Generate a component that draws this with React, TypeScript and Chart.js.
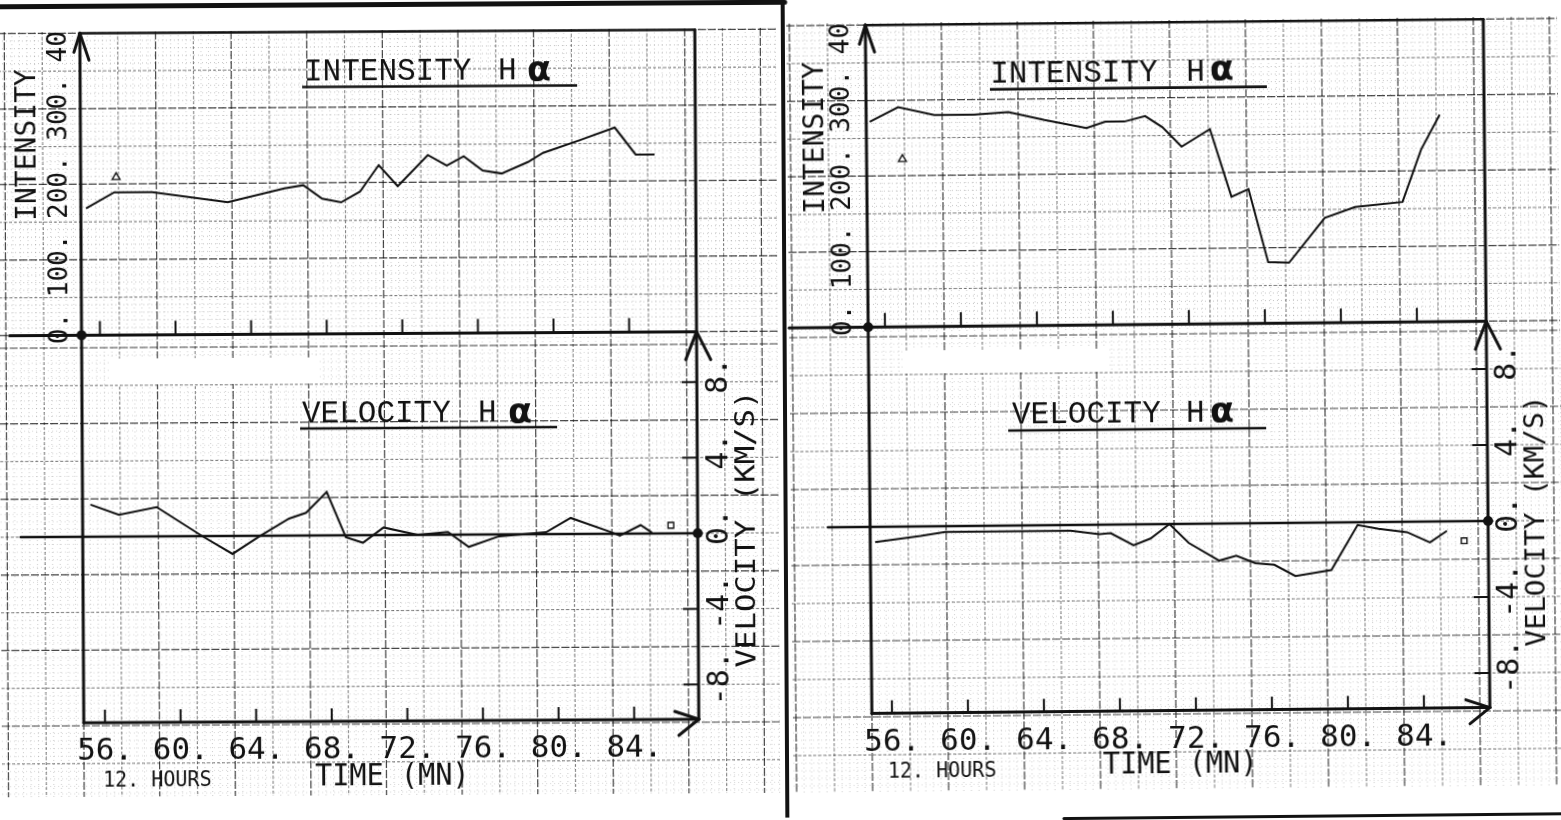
import { useEffect, useRef } from 'react';
import { Chart, registerables } from 'chart.js';

Chart.register(...registerables);

// Minutes after 12 h, Hα intensity (arbitrary units) and line-of-sight velocity (km/s)
const timeTicks = [56, 60, 64, 68, 72, 76, 80, 84];
const intensityTicks = [0, 100, 200, 300, 400];
const velocityTicks = [-8, -4, 0, 4, 8];

const leftIntensityTimes = [55.3, 56.8, 58.8, 62.8, 65.8, 66.8, 67.8, 68.8, 69.8, 70.8, 71.8, 73.4, 74.4, 75.3, 76.3, 77.3, 78.7, 79.5, 81.5, 83.3, 84.4, 85.4];
const leftIntensityValues = [168, 189, 189, 175, 193, 197, 179, 174, 188, 223, 195, 236, 222, 234, 215, 211, 226, 238, 255, 271, 235, 235];
const leftVelocityTimes = [55.3, 56.8, 58.8, 61.2, 62.8, 64.2, 65.8, 66.7, 67.8, 68.8, 69.7, 70.8, 72.6, 74.2, 75.3, 76.9, 79.4, 80.7, 82.8, 83.3, 84.4, 85.0];
const leftVelocityValues = [1.7, 1.15, 1.55, 0.0, -0.95, -0.05, 0.9, 1.2, 2.3, -0.1, -0.4, 0.4, 0.0, 0.15, -0.65, -0.1, 0.1, 0.85, 0.1, -0.1, 0.45, 0.05];

const rightIntensityTimes = [55.3, 56.8, 58.7, 60.8, 62.6, 64.5, 66.7, 67.7, 68.7, 69.8, 70.7, 71.7, 73.2, 74.3, 75.2, 76.2, 77.3, 79.2, 80.8, 83.3, 84.3, 85.3];
const rightIntensityValues = [272, 291, 280, 280, 283, 272, 261, 269, 269, 276, 261, 235, 258, 168, 178, 81, 80, 139, 153, 159, 228, 274];
const rightVelocityTimes = [55.2, 57.6, 58.9, 61.5, 65.5, 67.0, 67.6, 68.8, 69.7, 70.7, 71.7, 73.3, 74.2, 75.2, 76.2, 77.3, 79.2, 80.6, 81.7, 83.2, 84.4, 85.3];
const rightVelocityValues = [-0.8, -0.5, -0.3, -0.3, -0.3, -0.5, -0.45, -1.1, -0.75, 0.0, -1.0, -1.95, -1.7, -2.1, -2.2, -2.8, -2.5, -0.15, -0.35, -0.55, -1.1, -0.5];

// Reference marks: [time, value]
const leftTriangleMark = [56.9, 209];
const leftSquareMark = [86.0, 0.43];
const rightTriangleMark = [57.0, 222];
const rightSquareMark = [86.2, -1.03];

// Sheet layout (page pixels)
const LEFT_SHEET = {
  left: 0, width: 792, rotate: -0.33,
  paper: { x0: 0, x1: 778, y0: 30, y1: 795 },
  axisX: 82, rightAxisX: 697,
  topAt56: 100.4, bottomAt56: 103.2, pxPerMin: 18.9,
  intensityZeroY: 333.4, pxPerIntensity: 0.755,
  velocityZeroY: 535, pxPerVelocity: 18.9, velocityFloor: -9.84,
  intensityZeroFrom: 10, velocityZeroFrom: 20,
  patches: [[110, 357, 207, 26]],
  intensityTitle: { x: 306, y: 80, hX: 500, aX: 529, aY: 82, u0: 304, u1: 579, uY: 86.5 },
  velocityTitle: { x: 302, y: 422, hX: 478, aX: 508, aY: 424, u0: 300, u1: 557, uY: 428 },
  intensityName: { x: 29.5, y: 143 },
  intensityNumbersX: 61.6, numbersClipTop: 29,
  velocityNumbersX: 719.5,
  velocityName: { x: 747, y: 531, stretch: 1.18 },
  hours: { x: 101, y: 785 },
  timeName: { x: 313, y: 785 },
  tickLabelY: 758,
  topRule: [0, 787, 4.5],
  divider: 785,
  bottomRule: null as null | number[],
  trace: {
    it: leftIntensityTimes, iv: leftIntensityValues,
    vt: leftVelocityTimes, vv: leftVelocityValues,
    tri: leftTriangleMark, sq: leftSquareMark,
  },
};

const RIGHT_SHEET = {
  left: 785, width: 776, rotate: -0.55,
  paper: { x0: 790, x1: 1561, y0: 20, y1: 790 },
  axisX: 869, rightAxisX: 1487,
  topAt56: 885.8, bottomAt56: 889.1, pxPerMin: 19.0,
  intensityZeroY: 324.2, pxPerIntensity: 0.755,
  velocityZeroY: 524, pxPerVelocity: 19.0, velocityFloor: -9.82,
  intensityZeroFrom: 790, velocityZeroFrom: 827,
  patches: [[903, 348, 207, 23]],
  intensityTitle: { x: 993.5, y: 81, hX: 1189.5, aX: 1213, aY: 80.5, u0: 993, u1: 1270, uY: 87.6 },
  velocityTitle: { x: 1012, y: 422, hX: 1186, aX: 1210, aY: 423, u0: 1008, u1: 1266, uY: 429 },
  intensityName: { x: 818.6, y: 134.6 },
  intensityNumbersX: 845, numbersClipTop: 19,
  velocityNumbersX: 1508,
  velocityName: { x: 1536, y: 524.5, stretch: 1.07 },
  hours: { x: 884.5, y: 775 },
  timeName: { x: 1099.6, y: 773 },
  tickLabelY: 748.2,
  topRule: null as null | number[],
  divider: null as null | number,
  bottomRule: [1060, 1561, 817.5],
  trace: {
    it: rightIntensityTimes, iv: rightIntensityValues,
    vt: rightVelocityTimes, vv: rightVelocityValues,
    tri: rightTriangleMark, sq: rightSquareMark,
  },
};

const HEIGHT = 820;
const INK = '#121212';
const MONO = '"DejaVu Sans Mono", monospace';
const TYPE = '"Liberation Mono", "Courier New", monospace';

function seg(ctx: CanvasRenderingContext2D, x1: number, y1: number, x2: number, y2: number) {
  ctx.beginPath();
  ctx.moveTo(x1, y1);
  ctx.lineTo(x2, y2);
  ctx.stroke();
}

function textUp(ctx: CanvasRenderingContext2D, text: string, x: number, y: number, font: string, stretch = 1, align: CanvasTextAlign = 'center') {
  ctx.save();
  ctx.translate(x, y);
  ctx.rotate(-Math.PI / 2);
  ctx.scale(stretch, 1);
  ctx.font = font;
  ctx.textAlign = align;
  ctx.textBaseline = 'middle';
  ctx.fillText(text, 0, 0);
  ctx.restore();
}

function textFlat(ctx: CanvasRenderingContext2D, text: string, x: number, y: number, font: string, sx = 1, align: CanvasTextAlign = 'left') {
  ctx.save();
  ctx.translate(x, y);
  ctx.scale(sx, 1);
  ctx.font = font;
  ctx.textAlign = align;
  ctx.textBaseline = 'alphabetic';
  ctx.fillText(text, 0, 0);
  ctx.restore();
}

function drawPaper(chart: any, s: typeof LEFT_SHEET) {
  const ctx: CanvasRenderingContext2D = chart.ctx;
  const { xBot, yI, yV } = chart.scales;
  const L = s.left;
  const x0 = s.paper.x0 - L, x1 = s.paper.x1 - L, y0 = s.paper.y0, y1 = s.paper.y1;
  const split = yI.getPixelForValue(0);
  const t0 = xBot.getValueForPixel(s.axisX - L);

  ctx.save();
  ctx.beginPath();
  ctx.rect(x0, y0, x1 - x0, y1 - y0);
  ctx.clip();

  // fine millimetre ruling, heavier on the intensity half of the sheet
  ctx.lineWidth = 1;
  ctx.setLineDash([1, 3]);
  ctx.strokeStyle = 'rgba(0,0,0,0.2)';
  for (let k = -40; k < 400; k++) {
    const x = xBot.getPixelForValue(t0 + 0.4 * k);
    if (x < x0 || x > x1) continue;
    seg(ctx, x, y0, x, y1);
  }
  ctx.strokeStyle = 'rgba(0,0,0,0.24)';
  for (let k = 0; k < 60; k++) {
    const y = yI.getPixelForValue(10 * k);
    if (y < y0) break;
    seg(ctx, x0, y, x1, y);
  }
  ctx.strokeStyle = 'rgba(0,0,0,0.16)';
  for (let k = -60; k < 60; k++) {
    const y = yV.getPixelForValue(0.4 * k);
    if (y <= split || y > y1) continue;
    seg(ctx, x0, y, x1, y);
  }

  const major = (dark: boolean) => {
    ctx.strokeStyle = dark ? 'rgba(0,0,0,0.72)' : 'rgba(0,0,0,0.5)';
    ctx.setLineDash(dark ? [8, 2] : [3, 2]);
    ctx.lineWidth = dark ? 1.2 : 1;
  };
  // 2-minute columns
  for (let k = -4; k < 40; k++) {
    const x = xBot.getPixelForValue(t0 + 2 * k);
    if (x < x0 - 1 || x > x1 + 1) continue;
    major(k % 2 === 0);
    seg(ctx, x, y0, x, y1);
  }
  // intensity rows, every 50
  for (let k = 0; k < 12; k++) {
    const y = yI.getPixelForValue(50 * k);
    if (y < y0) break;
    major(k % 2 === 0);
    seg(ctx, x0, y, x1, y);
  }
  // velocity rows, every 2 km/s
  for (let k = -10; k < 10; k++) {
    const y = yV.getPixelForValue(2 * k);
    if (y <= split + 2 || y > y1) continue;
    major(Math.abs(k) % 2 === 1);
    seg(ctx, x0, y, x1, y);
  }
  ctx.setLineDash([]);
  ctx.fillStyle = '#ffffff';
  for (const p of s.patches) ctx.fillRect(p[0] - L, p[1], p[2], p[3]);
  ctx.restore();
}

function drawFrame(chart: any, s: typeof LEFT_SHEET) {
  const ctx: CanvasRenderingContext2D = chart.ctx;
  const { xTop, xBot, yI, yV } = chart.scales;
  const L = s.left;
  const ax = s.axisX - L;
  const rx = s.rightAxisX - L;
  const iZero = yI.getPixelForValue(0);
  const iTop = yI.getPixelForValue(intensityTicks[intensityTicks.length - 1]);
  const vZero = yV.getPixelForValue(0);
  const floor = yV.getPixelForValue(s.velocityFloor);

  ctx.save();
  ctx.strokeStyle = INK;
  ctx.fillStyle = INK;
  ctx.lineCap = 'round';
  ctx.setLineDash([]);

  // sheet edges
  if (s.topRule) { ctx.lineWidth = 5; seg(ctx, s.topRule[0] - L, s.topRule[2], s.topRule[1] - L, s.topRule[2]); }
  if (s.divider !== null) { ctx.lineWidth = 4; seg(ctx, s.divider - L, 0, s.divider - L, HEIGHT); }
  if (s.bottomRule) { ctx.lineWidth = 3; seg(ctx, s.bottomRule[0] - L, s.bottomRule[2], s.bottomRule[1] - L, s.bottomRule[2]); }

  // intensity box
  ctx.lineWidth = 2.5;
  seg(ctx, ax, iTop, rx, iTop);
  ctx.lineWidth = 3;
  seg(ctx, ax, iTop, ax, floor);
  seg(ctx, rx, iTop, rx, floor);
  seg(ctx, s.intensityZeroFrom - L, iZero, rx, iZero);
  seg(ctx, ax, iTop, ax - 6, iTop + 19);
  seg(ctx, ax, iTop, ax + 9, iTop + 27);
  ctx.beginPath(); ctx.arc(ax, iZero, 5, 0, Math.PI * 2); ctx.fill();

  // velocity box
  ctx.lineWidth = 2.6;
  seg(ctx, s.velocityZeroFrom - L, vZero, rx, vZero);
  ctx.beginPath(); ctx.arc(rx, vZero, 5, 0, Math.PI * 2); ctx.fill();
  ctx.lineWidth = 3;
  seg(ctx, ax, floor, rx, floor);
  seg(ctx, rx, floor, rx - 24, floor - 8);
  seg(ctx, rx, floor, rx - 20, floor + 16);
  seg(ctx, rx, iZero, rx - 11, iZero + 28);
  seg(ctx, rx, iZero, rx + 14, iZero + 28);

  // ticks
  ctx.lineWidth = 2;
  ctx.lineCap = 'butt';
  for (const t of timeTicks) {
    const xt = xTop.getPixelForValue(t);
    seg(ctx, xt, iZero, xt, iZero - 14);
    const xb = xBot.getPixelForValue(t);
    seg(ctx, xb, floor, xb, floor - 13);
  }
  for (const v of velocityTicks) {
    if (v === 0) continue;
    const y = yV.getPixelForValue(v);
    seg(ctx, rx - 15, y, rx, y);
  }
  ctx.restore();
}

function drawText(chart: any, s: typeof LEFT_SHEET) {
  const ctx: CanvasRenderingContext2D = chart.ctx;
  const { xBot, yI, yV } = chart.scales;
  const L = s.left;
  ctx.save();
  ctx.fillStyle = INK;
  ctx.strokeStyle = INK;

  // panel titles
  const title = (word: string, t: typeof s.intensityTitle) => {
    textFlat(ctx, word, t.x - L, t.y, `31px ${TYPE}`);
    textFlat(ctx, 'H', t.hX - L, t.y, `31px ${TYPE}`);
    textFlat(ctx, 'α', t.aX - L, t.aY, `bold 35px "DejaVu Sans", sans-serif`);
    ctx.lineWidth = 2.6;
    seg(ctx, t.u0 - L, t.uY, t.u1 - L, t.uY);
  };
  title('INTENSITY', s.intensityTitle);
  title('VELOCITY', s.velocityTitle);

  // intensity axis
  textUp(ctx, 'INTENSITY', s.intensityName.x - L, s.intensityName.y, `28px ${MONO}`);
  ctx.save();
  ctx.beginPath();
  ctx.rect(0, s.numbersClipTop, s.width, HEIGHT);
  ctx.clip();
  const scaleText = intensityTicks.map((v) => `${v}.`).join(' ');
  const adv = 26 * 0.602;
  textUp(ctx, scaleText, s.intensityNumbersX - L, yI.getPixelForValue(0) + 1 + adv / 2, `26px ${MONO}`, 1, 'left');
  ctx.restore();

  // velocity axis
  for (const v of velocityTicks) {
    textUp(ctx, `${v}.`, s.velocityNumbersX - L, yV.getPixelForValue(v) - 6, `30px ${MONO}`);
  }
  textUp(ctx, 'VELOCITY (KM/S)', s.velocityName.x - L, s.velocityName.y, `26px ${MONO}`, s.velocityName.stretch);

  // time axis
  for (const t of timeTicks) {
    textFlat(ctx, `${t}.`, xBot.getPixelForValue(t), s.tickLabelY, `31px ${MONO}`, 1, 'center');
  }
  textFlat(ctx, '12. HOURS', s.hours.x - L, s.hours.y, `22px ${MONO}`, 0.91);
  textFlat(ctx, 'TIME (MN)', s.timeName.x - L, s.timeName.y, `31px ${MONO}`, 0.92);
  ctx.restore();
}

function buildChart(canvas: HTMLCanvasElement, s: typeof LEFT_SHEET) {
  const L = s.left;
  const w = s.width;
  const topMin = 56 - (s.topAt56 - L) / s.pxPerMin;
  const botMin = 56 - (s.bottomAt56 - L) / s.pxPerMin;
  const iMax = s.intensityZeroY / s.pxPerIntensity;
  const vMax = s.velocityZeroY / s.pxPerVelocity;
  const tr = s.trace;

  const sheetPlugin = {
    id: 'graphSheet',
    beforeDatasetsDraw(chart: any) {
      drawPaper(chart, s);
      drawFrame(chart, s);
      drawText(chart, s);
    },
  };

  return new Chart(canvas, {
    type: 'line',
    data: {
      datasets: [
        {
          data: tr.it.map((t, i) => ({ x: t, y: tr.iv[i] })),
          xAxisID: 'xTop', yAxisID: 'yI',
          borderColor: INK, borderWidth: 2, pointRadius: 0, tension: 0, fill: false,
        },
        {
          data: tr.vt.map((t, i) => ({ x: t, y: tr.vv[i] })),
          xAxisID: 'xBot', yAxisID: 'yV',
          borderColor: INK, borderWidth: 2, pointRadius: 0, tension: 0, fill: false,
        },
        {
          data: [{ x: tr.tri[0], y: tr.tri[1] }],
          xAxisID: 'xTop', yAxisID: 'yI', showLine: false,
          pointStyle: 'triangle', pointRadius: 4.5, pointBorderWidth: 1.4,
          pointBackgroundColor: '#ffffff', pointBorderColor: INK,
        },
        {
          data: [{ x: tr.sq[0], y: tr.sq[1] }],
          xAxisID: 'xBot', yAxisID: 'yV', showLine: false,
          pointStyle: 'rect', pointRadius: 4, pointBorderWidth: 1.4,
          pointBackgroundColor: '#ffffff', pointBorderColor: INK,
        },
      ],
    },
    options: {
      responsive: false,
      maintainAspectRatio: false,
      animation: false,
      events: [],
      layout: { padding: 0, autoPadding: false },
      plugins: { legend: { display: false }, tooltip: { enabled: false } },
      scales: {
        xTop: { type: 'linear', display: false, bounds: 'data', min: topMin, max: topMin + w / s.pxPerMin },
        xBot: { type: 'linear', display: false, bounds: 'data', min: botMin, max: botMin + w / s.pxPerMin },
        yI: { type: 'linear', display: false, bounds: 'data', min: iMax - HEIGHT / s.pxPerIntensity, max: iMax },
        yV: { type: 'linear', display: false, bounds: 'data', min: vMax - HEIGHT / s.pxPerVelocity, max: vMax },
      },
    } as any,
    plugins: [sheetPlugin],
  });
}

function Sheet({ spec }: { spec: typeof LEFT_SHEET }) {
  const ref = useRef<HTMLCanvasElement>(null);
  useEffect(() => {
    const chart = buildChart(ref.current as HTMLCanvasElement, spec);
    return () => chart.destroy();
  }, [spec]);
  return (
    <canvas
      ref={ref}
      width={spec.width}
      height={HEIGHT}
      style={{
        position: 'absolute',
        left: spec.left,
        top: 0,
        width: spec.width,
        height: HEIGHT,
        transform: `rotate(${spec.rotate}deg)`,
      }}
    />
  );
}

export default function App() {
  return (
    <div style={{ position: 'absolute', left: 0, top: 0, width: 1561, height: HEIGHT, background: '#ffffff', overflow: 'hidden' }}>
      <Sheet spec={LEFT_SHEET} />
      <Sheet spec={RIGHT_SHEET as typeof LEFT_SHEET} />
    </div>
  );
}
